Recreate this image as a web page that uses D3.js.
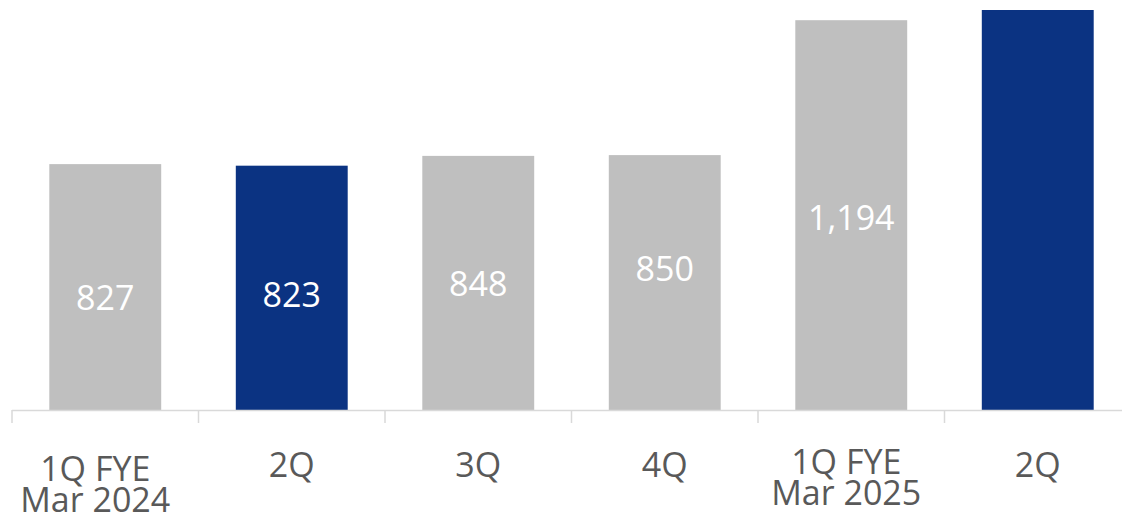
<!DOCTYPE html>
<html>
<head>
<meta charset="utf-8">
<script src="https://cdn.jsdelivr.net/npm/d3@7"></script>
<style>
  html, body { margin: 0; padding: 0; background: #fff; }
  svg { display: block; }
</style>
</head>
<body>
<svg id="chart" width="1122" height="514"></svg>
<script>
// Quarterly figures
const categories = ["1Q FYE\nMar 2024", "2Q", "3Q", "4Q", "1Q FYE\nMar 2025", "2Q"];
const values = [827, 823, 848, 850, 1194, 1220];
const showLabel = [true, true, true, true, true, false];
const highlight = [false, true, false, false, false, true];

const svg = d3.select("#chart");
const baseY = 410;
const topY = 10;
const font = "'Open Sans', 'Noto Sans', sans-serif";

const x = d3.scaleBand()
  .domain(d3.range(categories.length))
  .range([12, 1131])
  .paddingInner(0.4)
  .paddingOuter(0.2);

// value axis is not zero-based
const y = d3.scaleLinear()
  .domain([200, 1220])
  .range([baseY, topY]);

// hand-placed label offsets from the bar's middle
const labelNudge = [11, 7, 1, -14, 3, 0];

const bars = svg.append("g");
bars.selectAll("rect")
  .data(values)
  .join("rect")
  .attr("x", (d, i) => x(i))
  .attr("width", x.bandwidth())
  .attr("y", d => y(d))
  .attr("height", d => baseY - y(d))
  .attr("fill", (d, i) => highlight[i] ? "#0b3382" : "#bfbfbf");

bars.selectAll("text")
  .data(values)
  .join("text")
  .filter((d, i) => showLabel[i])
  .attr("x", (d, i) => x(i) + x.bandwidth() / 2)
  .attr("y", (d, i) => (y(d) + baseY) / 2 + labelNudge[i] + 12)
  .attr("text-anchor", "middle")
  .attr("fill", "#ffffff")
  .style("font-family", font)
  .style("font-size", "34px")
  .text(d => d3.format(",")(d));

// category axis with band-boundary ticks
const axis = svg.append("g");
const step = x.step();
const left = x.range()[0];
axis.append("line")
  .attr("x1", left).attr("x2", x.range()[1])
  .attr("y1", baseY + 0.5).attr("y2", baseY + 0.5)
  .attr("stroke", "#d9d9d9").attr("stroke-width", 1.5);
axis.selectAll("line.tick")
  .data(d3.range(categories.length + 1))
  .join("line")
  .attr("class", "tick")
  .attr("x1", i => left + i * step).attr("x2", i => left + i * step)
  .attr("y1", baseY).attr("y2", baseY + 13)
  .attr("stroke", "#d9d9d9").attr("stroke-width", 1.5);

// first baseline and sideways shift of each category label
const labelTop = [481, 477, 477, 477, 474, 477];
const labelShift = [-10, 0, 0, 0, -5, 0];
const labels = axis.selectAll("text")
  .data(categories)
  .join("text")
  .attr("text-anchor", "middle")
  .attr("fill", "#595959")
  .style("font-family", font)
  .style("font-size", "34px");
labels.each(function(d, i) {
  const lines = d.split("\n");
  const t = d3.select(this);
  const cx = x(i) + x.bandwidth() / 2 + labelShift[i];
  lines.forEach((ln, k) => {
    t.append("tspan")
      .attr("x", cx)
      .attr("y", labelTop[i] + k * 31)
      .text(ln);
  });
});
</script>
</body>
</html>
